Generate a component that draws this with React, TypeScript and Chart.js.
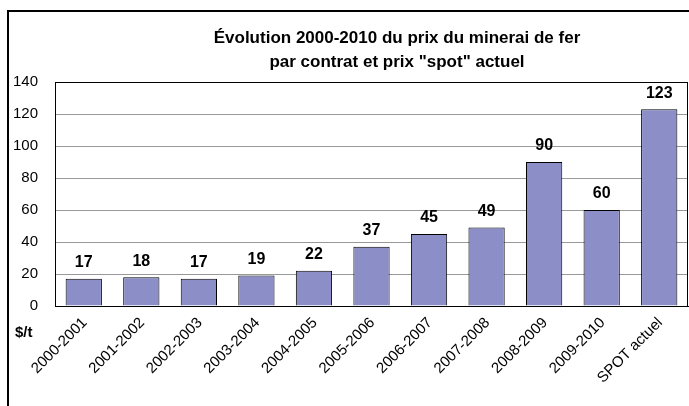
import React, { useEffect, useRef } from "react";
import { Chart, registerables } from "chart.js";

Chart.register(...registerables);

const categories = [
  "2000-2001",
  "2001-2002",
  "2002-2003",
  "2003-2004",
  "2004-2005",
  "2005-2006",
  "2006-2007",
  "2007-2008",
  "2008-2009",
  "2009-2010",
  "SPOT actuel",
];
const prices = [17, 18, 17, 19, 22, 37, 45, 49, 90, 60, 123];
const yMin = 0;
const yMax = 140;
const yStep = 20;
const titleLines = [
  "Évolution 2000-2010 du prix du minerai de fer",
  'par contrat et prix "spot" actuel',
];
const unitLabel = "$/t";

const FONT = '"Liberation Sans", Arial, sans-serif';
const CANVAS_W = 680;
const CANVAS_H = 394;

const decorPlugin = {
  id: "decor",
  afterDraw(chart: any) {
    const ctx = chart.ctx;
    const area = chart.chartArea;
    ctx.save();
    // plot frame
    ctx.strokeStyle = "#000";
    ctx.lineWidth = 1;
    ctx.strokeRect(
      Math.round(area.left) + 0.5,
      Math.round(area.top) + 0.5,
      Math.round(area.right - area.left) - 1,
      Math.round(area.bottom - area.top)
    );
    // title
    ctx.fillStyle = "#000";
    ctx.font = `bold 17px ${FONT}`;
    ctx.textAlign = "center";
    ctx.textBaseline = "middle";
    ctx.fillText(titleLines[0], 388, 26);
    ctx.fillText(titleLines[1], 388, 50);
    // unit label
    ctx.font = `bold 15px ${FONT}`;
    ctx.textAlign = "left";
    ctx.fillText(unitLabel, 6, 321);
    // data labels
    const meta = chart.getDatasetMeta(0);
    ctx.font = `bold 16px ${FONT}`;
    ctx.textAlign = "center";
    ctx.textBaseline = "bottom";
    meta.data.forEach((bar: any, i: number) => {
      ctx.fillText(String(prices[i]), bar.x, bar.y - 8);
    });
    ctx.restore();
  },
};

export default function App() {
  const canvasRef = useRef<HTMLCanvasElement | null>(null);

  useEffect(() => {
    if (!canvasRef.current) return;
    const chart = new Chart(canvasRef.current, {
      type: "bar",
      data: {
        labels: categories,
        datasets: [
          {
            data: prices,
            backgroundColor: "#8C8FC7",
            borderColor: "#000",
            borderWidth: 1,
            categoryPercentage: 1,
            barPercentage: 0.63,
          },
        ],
      },
      options: {
        responsive: false,
        animation: false,
        devicePixelRatio: 1,
        layout: { padding: { top: 70, right: 1, left: 0, bottom: 0 } },
        plugins: {
          legend: { display: false },
          title: { display: false },
          tooltip: { enabled: false },
        },
        scales: {
          x: {
            grid: { display: false },
            border: { display: true, color: "#000" },
            ticks: {
              color: "#000",
              font: { family: FONT, size: 15 },
              minRotation: 45,
              maxRotation: 45,
              autoSkip: false,
              padding: 0,
              labelOffset: 1,
            },
            afterFit: (scale: any) => {
              scale.height = 100;
            },
          },
          y: {
            min: yMin,
            max: yMax,
            grid: { color: "#999", drawTicks: false },
            border: { display: true, color: "#000" },
            ticks: {
              stepSize: yStep,
              color: "#000",
              font: { family: FONT, size: 15 },
              padding: 17,
            },
            afterFit: (scale: any) => {
              scale.width = 46;
            },
          },
        },
      },
      plugins: [decorPlugin],
    });
    return () => chart.destroy();
  }, []);

  return (
    <div
      style={{
        position: "fixed",
        left: 0,
        top: 0,
        width: 689,
        height: 406,
        overflow: "hidden",
        background: "#fff",
      }}
    >
      <div
        style={{
          position: "absolute",
          left: 7,
          top: 10,
          width: 800,
          height: 500,
          border: "2px solid #000",
          boxSizing: "border-box",
        }}
      />
      <canvas
        ref={canvasRef}
        width={CANVAS_W}
        height={CANVAS_H}
        style={{ position: "absolute", left: 9, top: 12, width: CANVAS_W, height: CANVAS_H }}
      />
    </div>
  );
}
